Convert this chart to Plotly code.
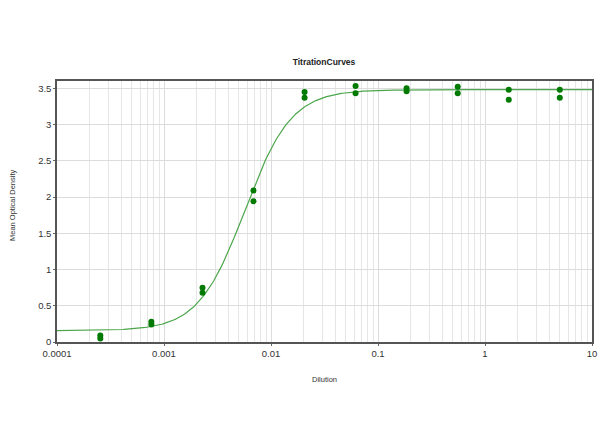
import numpy as np
import plotly.graph_objects as go

# Data: 3-fold dilution series, duplicate OD readings
dilution = [0.000254, 0.000762, 0.00229, 0.00686, 0.0206, 0.0617, 0.185, 0.556, 1.667, 5.0]
od_rep1 = [0.09, 0.28, 0.75, 2.09, 3.45, 3.53, 3.50, 3.52, 3.48, 3.48]
od_rep2 = [0.05, 0.24, 0.68, 1.94, 3.37, 3.43, 3.46, 3.43, 3.34, 3.37]

# 4-parameter logistic fit parameters
fit_bottom = 0.155
fit_top = 3.48
fit_ec50 = 0.0057
fit_hill = 2.0

x_all = dilution + dilution
y_all = od_rep1 + od_rep2

xc = np.logspace(-4, 1, 400)
yc = fit_bottom + (fit_top - fit_bottom) / (1 + (fit_ec50 / xc) ** fit_hill)

fig = go.Figure()
fig.add_trace(go.Scatter(x=xc, y=yc, mode="lines",
                         line=dict(color="#4ca64c", width=1.2), hoverinfo="skip"))
fig.add_trace(go.Scatter(x=x_all, y=y_all, mode="markers",
                         marker=dict(color="#007a00", size=6)))

FONT = "Liberation Sans, Arial, sans-serif"
axis_font = dict(family=FONT, size=9.5, color="#333333")
W, H = 600, 447
fig.update_layout(
    width=W, height=H,
    paper_bgcolor="white", plot_bgcolor="white",
    showlegend=False,
    margin=dict(l=57, r=8, t=81, b=105, autoexpand=False),
    title=dict(text="<b>TitrationCurves</b>", x=324 / W, xanchor="center", y=1 - 62 / H, yanchor="middle",
               font=dict(family=FONT, size=8.5, color="#222222")),
    xaxis=dict(type="log", range=[-4, 1], automargin=False,
               tickvals=[0.0001, 0.001, 0.01, 0.1, 1, 10],
               ticktext=["0.0001", "0.001", "0.01", "0.1", "1", "10"],
               tickfont=axis_font, ticks="outside", ticklen=2, tickcolor="#666",
               showgrid=True, gridcolor="#dcdcdc", gridwidth=1,
               minor=dict(showgrid=True, gridcolor="#e6e6e6", gridwidth=1,
                          tickvals=[m * 10.0 ** e for e in range(-4, 1) for m in range(2, 10)]),
               showline=True, linecolor="#555555", linewidth=1.5, mirror=True,
               zeroline=False),
    yaxis=dict(range=[0, 3.6], automargin=False, tickvals=[0, 0.5, 1, 1.5, 2, 2.5, 3, 3.5],
               ticktext=["0", "0.5", "1", "1.5", "2", "2.5", "3", "3.5"],
               tickfont=axis_font, ticks="outside", ticklen=2, tickcolor="#666",
               showgrid=True, gridcolor="#dcdcdc", gridwidth=1,
               showline=True, linecolor="#555555", linewidth=1.5, mirror=True,
               zeroline=False),
    annotations=[
        dict(text="Dilution", xref="paper", yref="paper", x=(324 - 57) / 535, y=-(379 - 342) / 261,
             xanchor="center", yanchor="middle", showarrow=False,
             font=dict(family=FONT, size=7.5, color="#333333")),
        dict(text="Mean Optical Density", xref="paper", yref="paper", x=-(57 - 12) / 535,
             y=(342 - 205) / 261, xanchor="center", yanchor="middle", textangle=-90, showarrow=False,
             font=dict(family=FONT, size=7.5, color="#333333")),
    ],
)

fig.write_html("out.html", config={"displayModeBar": False},
               post_script="document.body.style.margin='0';")
